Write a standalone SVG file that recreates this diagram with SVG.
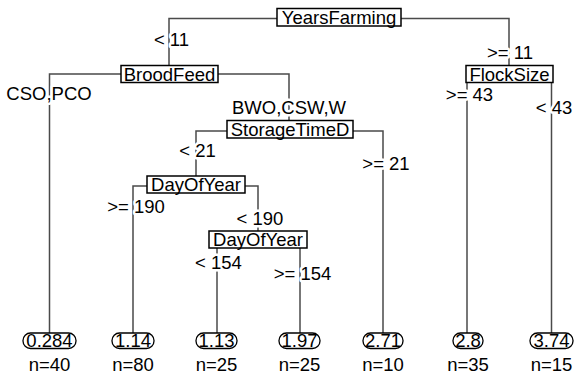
<svg xmlns="http://www.w3.org/2000/svg" width="578" height="376" viewBox="0 0 578 376">
<style>
text{font-family:"Liberation Sans",Arial,sans-serif;font-size:18.5px;fill:#000;text-anchor:middle}
.edge{fill:none;stroke:#4a4a4a;stroke-width:1.5}
.box{fill:#fff;stroke:#000;stroke-width:1.5}
.pill{fill:#fff;stroke:#000;stroke-width:1.3}
.lbl{stroke:#fff;stroke-width:5;stroke-linejoin:round;paint-order:stroke}
</style>
<rect width="578" height="376" fill="#fff"/>
<g id="connectors">
<path class="edge" d="M277,18.5H169V65.5"/>
<path class="edge" d="M401,18.5H509V65.5"/>
<path class="edge" d="M121,74H49.5V333"/>
<path class="edge" d="M218,74H289V120"/>
<path class="edge" d="M227,131H196V176"/>
<path class="edge" d="M353,131H383V333"/>
<path class="edge" d="M147,186H133V333"/>
<path class="edge" d="M245,186H258V231"/>
<path class="edge" d="M217,248V333"/>
<path class="edge" d="M300,248V333"/>
<path class="edge" d="M467,82V333"/>
<path class="edge" d="M551.5,82V333"/>
<text class="lbl" x="171.5" y="45.5">&lt; 11</text>
<text class="lbl" x="510" y="58.5">&gt;= 11</text>
<text class="lbl" x="49" y="99.5">CSO,PCO</text>
<text class="lbl" x="289" y="113.5">BWO,CSW,W</text>
<text class="lbl" x="469.5" y="100.5">&gt;= 43</text>
<text class="lbl" x="554" y="113.5">&lt; 43</text>
<text class="lbl" x="197.5" y="156.5">&lt; 21</text>
<text class="lbl" x="386" y="169.5">&gt;= 21</text>
<text class="lbl" x="136" y="212.5">&gt;= 190</text>
<text class="lbl" x="260" y="224.5">&lt; 190</text>
<text class="lbl" x="218.5" y="268.5">&lt; 154</text>
<text class="lbl" x="302.5" y="279.5">&gt;= 154</text>
</g>
<g id="n1"><rect class="box" x="277" y="8.5" width="124" height="17.5"/><text x="339" y="23.5">YearsFarming</text></g>
<g id="n2"><rect class="box" x="121" y="65.5" width="97" height="17"/><text x="169.5" y="80.5">BroodFeed</text></g>
<g id="n3"><rect class="box" x="466" y="65.5" width="87" height="17"/><text x="509.5" y="80.5">FlockSize</text></g>
<g id="n4"><rect class="box" x="227" y="120.5" width="126" height="17.5"/><text x="290" y="135.5">StorageTimeD</text></g>
<g id="n5"><rect class="box" x="147" y="176" width="98" height="17"/><text x="196" y="191">DayOfYear</text></g>
<g id="n6"><rect class="box" x="209" y="231" width="98" height="17"/><text x="258" y="246">DayOfYear</text></g>
<g id="leaf1"><rect class="pill" x="23" y="333" width="53" height="15.5" rx="7.5"/><text x="49.5" y="347">0.284</text><text x="49.5" y="371">n=40</text></g>
<g id="leaf2"><rect class="pill" x="112" y="333" width="42" height="15.5" rx="7.5"/><text x="133" y="347">1.14</text><text x="133" y="371">n=80</text></g>
<g id="leaf3"><rect class="pill" x="196" y="333" width="41" height="15.5" rx="7.5"/><text x="216.5" y="347">1.13</text><text x="216.5" y="371">n=25</text></g>
<g id="leaf4"><rect class="pill" x="279" y="333" width="41" height="15.5" rx="7.5"/><text x="299.5" y="347">1.97</text><text x="299.5" y="371">n=25</text></g>
<g id="leaf5"><rect class="pill" x="363" y="333" width="40" height="15.5" rx="7.5"/><text x="383" y="347">2.71</text><text x="383" y="371">n=10</text></g>
<g id="leaf6"><rect class="pill" x="453" y="333" width="30" height="15.5" rx="7.5"/><text x="468" y="347">2.8</text><text x="468" y="371">n=35</text></g>
<g id="leaf7"><rect class="pill" x="530" y="333" width="43" height="15.5" rx="7.5"/><text x="551.5" y="347">3.74</text><text x="551.5" y="371">n=15</text></g>
</svg>
